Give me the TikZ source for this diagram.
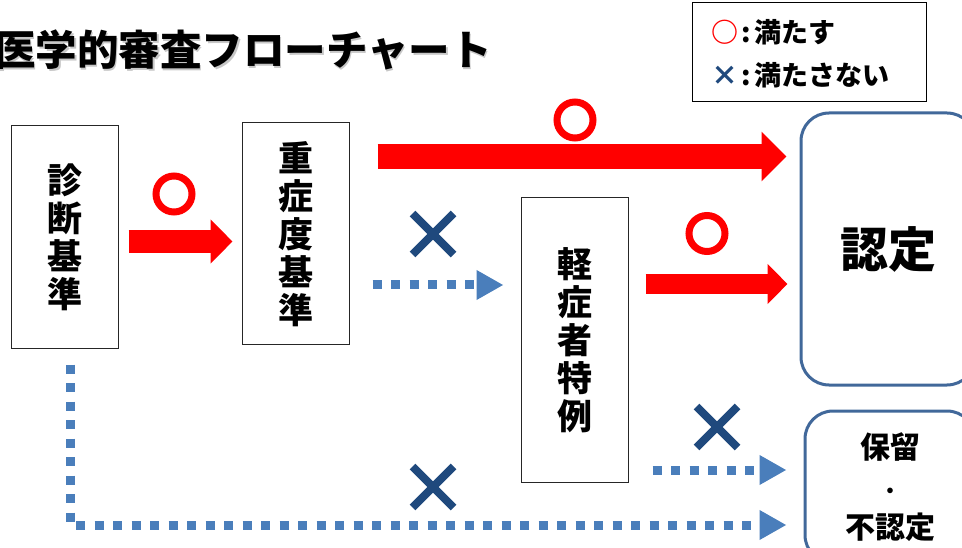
\documentclass[tikz,border=0pt]{standalone}
\usepackage{fontspec}
\setmainfont{Noto Sans CJK JP}
\usetikzlibrary{arrows.meta,shapes.misc}

\definecolor{okred}{RGB}{255,0,0}
\definecolor{ngblue}{RGB}{31,73,125}
\definecolor{dotblue}{RGB}{74,126,187}
\definecolor{frameblue}{RGB}{65,104,154}

\begin{document}
\begin{tikzpicture}[x=1pt,y=-1pt,
  stdbox/.style={draw=black!85, line width=1pt, minimum width=107pt, align=center,
    inner sep=0pt, font=\fontsize{35}{38}\selectfont\bfseries},
  goalbox/.style={draw=frameblue, line width=3pt, rounded corners=28pt, align=center, inner sep=0pt},
  bigarrow/.style n args={3}{okred, line width=#1, -{Triangle[length=#2,width=#3]}},
  dotarrow/.style={dotblue, line width=9pt, dash pattern=on 9pt off 9.5pt,
    -{Triangle[length=27pt,width=28pt]}},
  okmark/.style={circle, draw=okred, line width=7pt, minimum size=36pt, inner sep=0pt},
  ngmark/.style={cross out, draw=ngblue, line width=8pt, minimum size=33pt, inner sep=0pt}]

\def \titlefont {\fontsize{41.5}{41.5}\selectfont\bfseries}
\def \legfont {\fontsize{27}{27}\selectfont\bfseries}

\clip (0,0) rectangle (962,548);

% title with its shadow
\node[anchor=west, inner sep=0pt, font=\titlefont, black!22] at (-4.5,52) {医学的審査フローチャート};
\node (title) [anchor=west, inner sep=0pt, font=\titlefont] at (-6,50) {医学的審査フローチャート};

\node (legend) [draw, line width=0.8pt, minimum width=234pt, minimum height=99pt, inner sep=0pt] at (809,51.5) {};
\node (legok) [anchor=west, inner sep=0pt, font=\legfont] at (711,32)
  {\textcolor{okred}{○}\hspace{3pt}:\hspace{4pt}満たす};
\node (legng) [anchor=west, inner sep=0pt, font=\legfont] at (711,75)
  {\textcolor{ngblue}{×}\hspace{3pt}:\hspace{4pt}満たさない};

\node (diag) [stdbox, minimum height=222pt] at (64.5,237) {診\\断\\基\\準};
\node (severe) [stdbox, minimum height=222pt] at (295.5,234) {重\\症\\度\\基\\準};
\node (mild) [stdbox, minimum height=284pt] at (574.5,340) {軽\\症\\者\\特\\例};
\node (ok) [goalbox, minimum width=174pt, minimum height=272pt,
  font=\fontsize{48}{48}\selectfont\bfseries] at (888,249) {認定};
\node (hold) [goalbox, minimum width=170pt, minimum height=152pt,
  font=\fontsize{30}{40}\selectfont\bfseries] at (890,487) {保留\\{\fontsize{20}{40}\selectfont ・}\\不認定};

\node (ok1) [okmark] at (174,194) {};
\node (ok2) [okmark] at (575,120) {};
\node (ok3) [okmark] at (707,233.5) {};
\node (ng1) [ngmark] at (433,234) {};
\node (ng2) [ngmark] at (717,427) {};
\node (ng3) [ngmark] at (433,487) {};

\draw[bigarrow={23pt}{22pt}{43pt}, shorten <=10pt, shorten >=9pt]
  ([yshift=-4.5pt]diag.east) -- ([yshift=-4.5pt]diag.east -| severe.west);
\draw[bigarrow={25pt}{25pt}{48pt}, shorten <=28pt, shorten >=13pt]
  ([yshift=77.5pt]severe.east) -- ([yshift=77.5pt]severe.east -| ok.west);
\draw[bigarrow={20pt}{20pt}{39pt}, shorten <=17pt, shorten >=12pt]
  ([yshift=56pt]mild.east) -- ([yshift=56pt]mild.east -| ok.west);

\draw[dotarrow, shorten <=23pt, shorten >=17pt]
  ([yshift=-51pt]severe.east) -- ([yshift=-51pt]severe.east -| mild.west);
\draw[dotarrow, shorten <=24pt, shorten >=17pt]
  ([yshift=-130pt]mild.east) -- ([yshift=-130pt]mild.east -| hold.west);
\coordinate (bend) at (70,525);
\draw[dotarrow, shorten <=16pt, shorten >=17pt]
  ([xshift=5.5pt]diag.south) -- (bend) -- (bend -| hold.west);
\end{tikzpicture}
\end{document}
